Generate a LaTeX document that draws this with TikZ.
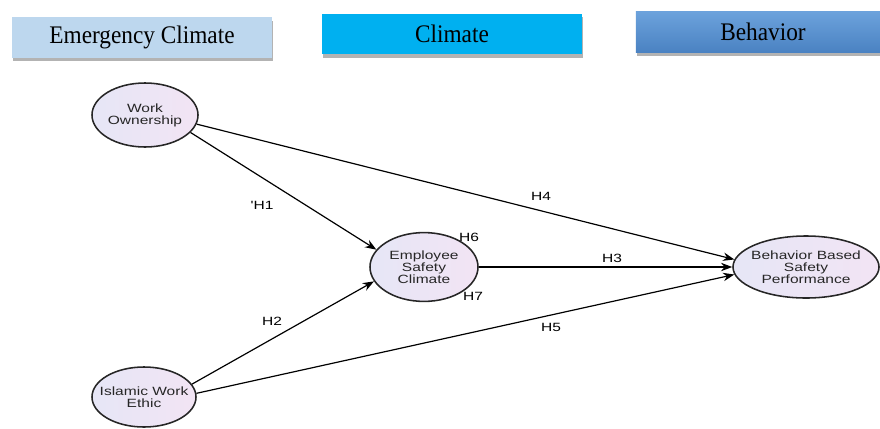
\documentclass[tikz,border=0pt]{standalone}
\usepackage{fontspec}
\setmainfont{Liberation Serif}
\newfontfamily\diagsans[FakeStretch=1.3]{Liberation Sans}
\newfontfamily\bandserif[FakeStretch=0.92]{Liberation Serif}
\usepackage{tikz}
\usetikzlibrary{arrows.meta,positioning,shapes.geometric,shadows}
\usepackage{xcolor}
\definecolor{lightband}{HTML}{BDD7EE}
\definecolor{midband}{HTML}{00B0F0}
\definecolor{darktop}{HTML}{6CA2DC}
\definecolor{darkbot}{HTML}{4A82C2}
\definecolor{bubbleL}{HTML}{E6E6F6}
\definecolor{bubbleR}{HTML}{F2E4F4}

\begin{document}
\begin{tikzpicture}[x=0.025cm,y=-0.025cm,>={Stealth[length=8pt,width=6pt]},
    band/.style={inner sep=0pt,minimum height=1.02cm,font=\bandserif\fontsize{18}{20}\selectfont,
      drop shadow={shadow xshift=1pt,shadow yshift=-2.5pt,opacity=0.6}},
    construct/.style={ellipse,draw=black!85,line width=1.1pt,left color=bubbleL,right color=bubbleR,inner sep=0pt},
    constxt/.style={align=center,text=black!85,font=\diagsans\fontsize{8.5}{8.5}\selectfont},
    hyp/.style={font=\diagsans\fontsize{8.5}{10}\selectfont},
    link/.style={->,line width=0.85pt}]
  \useasboundingbox (0,0) rectangle (880,428);

  % Headers
  \node[band,fill=lightband,minimum width=6.5cm] (emerg) at (142,37.5) {Emergency Climate};
  \node[band,fill=midband,minimum width=6.5cm] (clim) at (452,34) {Climate};
  \node[band,top color=darktop,bottom color=darkbot,minimum width=6.35cm] (behav) at (763,32) {Behavior};

  % Constructs
  \foreach \n/\x/\y/\w/\h/\t in {wo/145/115/2.65/1.6/{Work\\Ownership},
      esc/424/267/2.7/1.72/{Employee\\Safety\\Climate},
      bbsp/806/267/3.65/1.55/{Behavior Based\\Safety\\Performance},
      iwe/144/397/2.6/1.5/{Islamic Work\\Ethic}} {
    \node[construct,minimum width=\w cm,minimum height=\h cm] (\n) at (\x,\y) {};
    \node[constxt] (\n-txt) at (\n) {\t};
  }

  % Paths
  \draw[link] (wo.-21) -- (esc.160);
  \draw[link] (wo.-10) -- (bbsp.174);
  \draw[link] (esc.east) -- (bbsp.west);
  \draw[link] (iwe.15) -- (esc.196);
  \draw[link] (iwe.4) -- (bbsp.186);

  % Hypotheses
  \node[hyp] (h1) at (262,205) {'H1};
  \node[hyp] (h2) at (272,321) {H2};
  \node[hyp] (h3) at (612,258) {H3};
  \node[hyp] (h4) at (541,196) {H4};
  \node[hyp] (h5) at (551,327) {H5};
  \node[hyp] (h6) at (469,237) {H6};
  \node[hyp] (h7) at (473,296) {H7};
\end{tikzpicture}
\end{document}
